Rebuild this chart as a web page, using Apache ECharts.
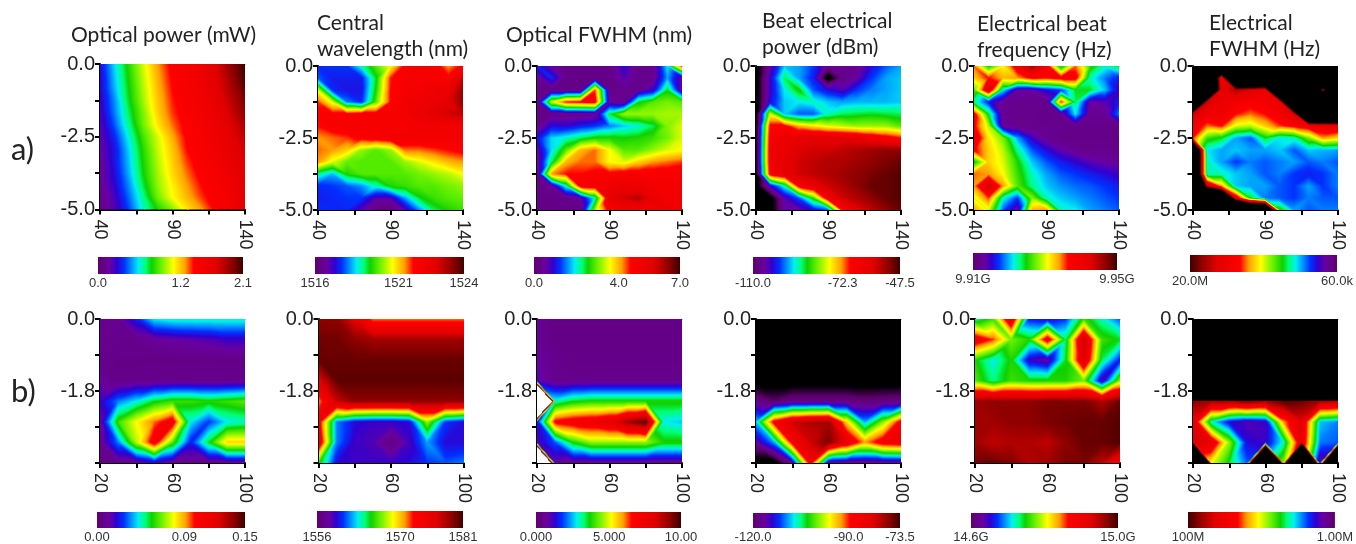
<!DOCTYPE html>
<html><head><meta charset="utf-8">
<script src="https://cdn.jsdelivr.net/npm/echarts@6/dist/echarts.min.js"></script>
<style>html,body{margin:0;padding:0;background:#fff}#c{width:1356px;height:544px}</style></head>
<body><div id="c"></div>
<script>
// Axis nodes of the sampled maps
const xTopNodes=[40,50,60,70,80,90,100,110,120,130,140];
const yTopNodes=[0,-0.4167,-0.8333,-1.25,-1.6667,-2.0833,-2.5,-2.9167,-3.3333,-3.75,-4.1667,-4.5833,-5];
const xBottomNodes=[20,30,40,50,60,70,80,90,100];
const yBottomNodes=[0,-0.5143,-1.0286,-1.5429,-2.0571,-2.5714,-3.0857,-3.6];
const _=null;
// Values: position on each panel's colour bar, in percent of its span (null = off-scale, drawn black)
const aPower=[
[14,27,39,50,60,68,71,75,82,92,100],
[13,26,38,49,59,67,71,74,81,90,99],
[13,25,37,48,58,66,70,73,80,88,97],
[12,23,36,47,57,65,70,72,78,86,94],
[11,22,34,45,56,64,69,72,76,84,92],
[10,20,32,44,54,62,68,71,75,82,89],
[9,17,29,41,50,59,67,70,74,80,86],
[8,15,27,39,49,57,66,70,73,78,84],
[7,15,26,38,48,56,64,69,72,77,82],
[7,14,25,37,47,55,62,68,71,75,81],
[6,13,23,35,46,53,60,66,70,74,80],
[5,11,21,32,44,52,58,64,69,72,79],
[5,10,19,30,38,45,54,60,67,71,78]];
const aWavelength=[
[17,18,18,30,42,52,68,70,70,60,68],
[20,16,16,16,36,65,70,70,70,68,85],
[50,17,15,15,38,66,70,72,74,76,92],
[64,50,22,17,42,66,72,74,76,80,92],
[68,68,68,70,70,70,72,76,80,84,86],
[66,70,70,70,70,70,70,72,72,72,72],
[60,62,64,68,70,72,72,72,72,72,72],
[62,60,56,46,42,46,62,62,64,66,68],
[60,50,43,42,42,42,46,50,54,58,60],
[32,25,38,42,42,42,42,44,46,48,52],
[17,18,20,23,30,38,40,42,42,44,46],
[16,17,18,18,10,10,24,36,40,42,43],
[17,17,17,10,2,2,10,23,34,38,40]];
const aOptFwhm=[
[16,8,4,4,4,4,14,5,5,28,66],
[6,17,5,4,4,4,10,5,5,24,8],
[4,4,4,4,64,5,5,6,12,36,8],
[5,50,66,68,70,8,5,36,42,44,42],
[4,5,5,5,6,35,46,46,46,47,47],
[5,14,13,16,18,22,26,29,34,45,50],
[14,27,30,34,38,38,37,38,40,44,50],
[8,27,42,58,62,52,42,42,46,50,52],
[6,34,58,62,62,52,50,56,60,62,64],
[5,60,66,66,68,68,70,70,70,70,70],
[4,6,30,70,72,74,76,74,72,72,72],
[4,4,4,8,30,78,84,88,76,72,74],
[4,4,4,4,46,70,72,72,72,76,72]];
const aBeatPower=[
[_,8,26,24,18,6,6,6,14,20,24],
[_,12,34,24,16,_,4,8,18,24,26],
[_,12,28,38,20,14,10,18,22,24,26],
[_,14,26,28,30,26,24,25,25,25,26],
[_,50,26,20,20,30,34,35,36,35,34],
[_,68,68,58,54,50,48,46,46,46,42],
[_,72,76,78,80,80,80,78,74,70,66],
[_,74,76,82,84,84,86,88,90,92,92],
[_,74,78,84,86,88,88,90,92,94,96],
[_,70,78,84,86,88,90,92,94,96,98],
[_,12,30,70,78,84,88,92,96,96,98],
[_,_,10,20,40,74,84,88,92,96,98],
[_,_,8,8,14,20,68,80,86,92,96]];
const aBeatFreq=[
[62,36,52,72,90,72,32,62,40,30,36],
[56,66,58,60,68,66,70,70,30,22,16],
[42,80,28,8,8,14,18,36,36,26,12],
[32,16,6,5,5,5,66,34,8,10,16],
[70,36,6,5,5,4,6,28,6,6,22],
[68,48,7,5,5,5,5,5,5,5,5],
[76,54,44,24,12,6,4,4,4,4,4],
[68,56,48,32,20,14,9,6,5,5,5],
[35,56,50,38,26,20,16,13,10,8,7],
[62,60,52,40,30,24,20,18,16,14,12],
[60,85,60,42,32,26,23,21,20,18,16],
[50,64,30,18,45,30,26,24,22,20,18],
[60,50,20,8,58,60,30,28,24,22,20]];
const aBeatFwhm=[
[_,_,_,_,_,_,_,_,_,_,_],
[_,_,72,_,_,_,_,_,_,_,_],
[_,_,78,88,82,76,_,_,_,88,_],
[_,85,76,72,70,72,75,_,_,_,_],
[86,74,74,66,62,66,72,82,_,_,_],
[74,62,66,50,48,56,64,68,72,75,76],
[66,40,36,24,20,36,28,30,44,60,56],
[_,28,24,26,24,24,26,20,26,25,24],
[_,30,24,18,22,20,22,24,20,22,20],
[_,30,30,26,24,20,22,18,16,18,22],
[_,88,60,26,24,24,20,18,24,18,22],
[_,_,_,78,36,22,20,18,22,20,20],
[_,_,_,_,_,_,40,24,20,22,22]];
const bPower=[
[5,6,16,28,30,30,30,30,30],
[5,5,5,7,8,9,10,12,12],
[5,4,4,4,4,4,4,4,4],
[8,4,5,5,5,5,5,5,6],
[12,22,28,36,40,40,38,40,42],
[8,40,52,62,72,28,18,28,30],
[6,22,48,72,42,16,36,56,56],
[4,5,6,12,6,5,5,6,6]];
const bWavelength=[
[92,92,80,62,62,62,62,62,62],
[95,95,92,90,90,90,90,90,90],
[96,96,96,96,96,96,96,96,96],
[80,97,97,97,97,97,97,97,97],
[60,85,92,92,92,92,92,92,92],
[72,22,14,12,12,14,46,18,14],
[78,22,12,10,3,11,24,14,14],
[40,14,12,12,12,14,18,20,22]];
const bOptFwhm=[
[6,4,4,4,4,4,4,4,4],
[6,4,4,4,4,4,4,4,4],
[8,5,4,4,4,4,4,4,4],
[10,5,5,5,5,5,5,5,5],
[440,30,36,38,38,38,38,38,38],
[14,68,72,74,78,90,98,28,26],
[10,20,38,46,46,46,46,38,38],
[430,8,6,6,6,6,6,6,6]];
const bBeatPower=[
[_,_,_,_,_,_,_,_,_],
[_,_,_,_,_,_,_,_,_],
[_,_,_,_,_,_,_,_,_],
[_,_,_,_,_,_,_,_,_],
[5,0,4,4,4,4,2,3,4],
[26,70,84,88,90,55,24,45,70],
[8,24,70,84,94,78,60,72,74],
[_,_,8,72,8,5,4,5,6]];
const bBeatFreq=[
[32,40,80,16,14,18,40,30,20],
[74,64,44,38,74,34,86,40,36],
[38,28,38,12,8,36,82,34,16],
[42,32,40,38,38,38,44,10,46],
[90,92,92,92,94,94,94,88,96],
[90,90,92,92,94,95,96,96,98],
[90,86,88,88,86,92,96,96,98],
[94,96,94,88,90,94,94,86,70]];
const bBeatFwhm=[
[_,_,_,_,_,_,_,_,_],
[_,_,_,_,_,_,_,_,_],
[_,_,_,_,_,_,_,_,_],
[_,_,_,_,_,_,_,_,_],
[92,90,90,95,90,98,96,90,88],
[78,30,14,10,12,60,80,26,22],
[84,78,46,14,12,30,78,22,20],
[_,52,36,20,_,45,_,8,_]];

// Colour-bar tick labels and their positions on the bar (percent)
const barLabels=[
[["0.0",0],["1.2",57],["2.1",100]],[["1516",0],["1521",56],["1524",100]],[["0.0",0],["4.0",58],["7.0",100]],
[["-110.0",0],["-72.3",61],["-47.5",100]],[["9.91G",0],["9.95G",100]],[["20.0M",0],["60.0k",100]],
[["0.00",0],["0.09",59],["0.15",100]],[["1556",0],["1570",57],["1581",100]],[["0.000",0],["5.000",50.5],["10.00",100]],
[["-120.0",0],["-90.0",65],["-73.5",100]],[["14.6G",0],["15.0G",100]],[["100M",0],["1.00M",100]]];

const titles=[
["Optical power (mW)",71,22],["Central\nwavelength (nm)",317,10],["Optical FWHM (nm)",506,22],
["Beat electrical\npower (dBm)",762,8],["Electrical beat\nfrequency (Hz)",977,11],["Electrical\nFWHM (Hz)",1209,10]];

const RAMP=[[0,94,0,110],[.08,106,0,160],[.13,48,0,208],[.18,0,48,255],[.23,0,144,255],[.28,0,240,240],[.33,0,255,112],
[.37,16,208,0],[.43,96,240,0],[.52,255,255,0],[.60,255,160,0],[.66,255,0,0],[.82,224,0,0],[.92,144,0,0],[1,64,0,0]];
const rampCss=RAMP.map(s=>({offset:s[0],color:`rgb(${s[1]},${s[2]},${s[3]})`}));
function colorAt(t,over){
  if(t>1){
    if(over==='white')return [255,255,255];
    if(over==='black'){const k=Math.max(0,1-(t-1)/0.04);return [64*k,0,0];}
    t=1;
  }
  if(t<0){const k=Math.max(0,1+t/0.08);return [94*k,0,110*k];}
  for(let i=1;i<RAMP.length;i++){
    if(t<=RAMP[i][0]){const a=RAMP[i-1],b=RAMP[i],f=(t-a[0])/(b[0]-a[0]);
      return [a[1]+f*(b[1]-a[1]),a[2]+f*(b[2]-a[2]),a[3]+f*(b[3]-a[3])];}
  }
  return [64,0,0];
}
// Contour fill inside one cell: two linear triangles, split along the diagonal whose ends agree best
function cellValue(q,u,v){
  if(Math.abs(q[0]-q[3])<=Math.abs(q[1]-q[2])){
    return u>v ? q[0]+u*(q[1]-q[0])+v*(q[3]-q[1]) : q[0]+v*(q[2]-q[0])+u*(q[3]-q[2]);
  }
  return u+v<1 ? q[0]+u*(q[1]-q[0])+v*(q[2]-q[0]) : q[3]+(1-u)*(q[2]-q[3])+(1-v)*(q[1]-q[3]);
}

const L=[100,318,537,755.5,974,1192.5], W=145;
const L2=[100,318.5,537,756,975,1193];
const barBoxes=[
[98,145,257],[315,149,257],[534,146,257],[753,147,257],[973,144,253],[1190,147,255],
[97,148,512],[317,146,511],[536,145,512],[753,147,513],[971,147,513],[1188,150,512]];
const spans=[
{rows:aPower,lo:0,hi:2.1},{rows:aWavelength,lo:1516,hi:1524},{rows:aOptFwhm,lo:0,hi:7},
{rows:aBeatPower,lo:-110,hi:-47.5,nullT:-0.12},{rows:aBeatFreq,lo:9.91,hi:9.95},
{rows:aBeatFwhm,lo:4.778,hi:7.301,nullT:1.8,over:'black',rev:true},
{rows:bPower,lo:0,hi:0.15},{rows:bWavelength,lo:1556,hi:1581},{rows:bOptFwhm,lo:0,hi:10,over:'white'},
{rows:bBeatPower,lo:-120,hi:-73.5,nullT:-0.12},{rows:bBeatFreq,lo:14.6,hi:15.0},
{rows:bBeatFwhm,lo:6,hi:8,nullT:5,over:'black',rev:true}];

const grid=[],xAxis=[],yAxis=[],series=[];
const axisBase={axisLine:{show:true,onZero:false,lineStyle:{color:'#000',width:2}},
  axisTick:{show:true,length:5,lineStyle:{color:'#000',width:2}},splitLine:{show:false}};

spans.forEach((p,k)=>{
  const top=k<6, col=k%6;
  const xs=top?xTopNodes:xBottomNodes, ys=top?yTopNodes:yBottomNodes;
  const left=top?L[col]:L2[col], ty=top?(col===0?64:66):319;
  const height=top?(col===0?145.5:144):144;
  grid.push({left,top:ty,width:W,height});
  const xr=[xs[0],xs[xs.length-1]], ymin=ys[ys.length-1];
  const xMid=(xr[0]+xr[1])/2, yMid=ymin/2;
  xAxis.push({...axisBase,gridIndex:grid.length-1,type:'value',min:xr[0],max:xr[1],position:'bottom',
    axisTick:{...axisBase.axisTick,customValues:[xr[0],(xr[0]+xMid)/2,xMid,(xMid+xr[1])/2,xr[1]]},
    axisLabel:{customValues:[xr[0],xMid,xr[1]],rotate:-90,margin:10,fontSize:18,color:'#222',fontFamily:'Liberation Sans',hideOverlap:false}});
  yAxis.push({...axisBase,gridIndex:grid.length-1,type:'value',min:ymin,max:0,
    axisTick:{...axisBase.axisTick,customValues:[ymin,(ymin+yMid)/2,yMid,yMid/2,0]},
    axisLabel:{customValues:top?[ymin,yMid,0]:[yMid,0],margin:5,fontSize:20,color:'#222',fontFamily:'Liberation Sans',formatter:v=>v.toFixed(1)}});
  // real-unit values from the colour-bar positions
  const real=p.rows.map(r=>r.map(v=>v===null?null:p.lo+v/100*(p.hi-p.lo)));
  const cells=[];
  for(let j=0;j<ys.length-1;j++)for(let i=0;i<xs.length-1;i++)
    cells.push([xs[i],ys[j],xs[i+1],ys[j+1],real[j][i],real[j][i+1],real[j+1][i],real[j+1][i+1]]);
  const tOf=v=>{ if(v===null||v===undefined||Number.isNaN(v))return p.nullT!==undefined?p.nullT:0; return (v-p.lo)/(p.hi-p.lo); };
  series.push({type:'custom',xAxisIndex:grid.length-1,yAxisIndex:grid.length-1,coordinateSystem:'cartesian2d',
    clip:true,silent:true,progressive:0,animation:false,data:cells,
    encode:{x:[0,2],y:[1,3]},
    renderItem:(params,api)=>{
      const c=cells[params.dataIndex];
      const a=api.coord([c[0],c[1]]),b=api.coord([c[2],c[3]]);
      const w=Math.ceil(b[0]-a[0])+1,h=Math.ceil(b[1]-a[1])+1;
      const cv=document.createElement('canvas');cv.width=w;cv.height=h;
      const ctx=cv.getContext('2d'),im=ctx.createImageData(w,h);
      const q=[tOf(c[4]),tOf(c[5]),tOf(c[6]),tOf(c[7])];
      const dx=b[0]-a[0],dy=b[1]-a[1];
      for(let y=0;y<h;y++)for(let x=0;x<w;x++){
        const u=Math.min(1,(x+.5)/dx),v=Math.min(1,(y+.5)/dy);
        const t=cellValue(q,u,v);
        const col=colorAt(t,p.over),o=(y*w+x)*4;
        im.data[o]=col[0];im.data[o+1]=col[1];im.data[o+2]=col[2];im.data[o+3]=255;
      }
      ctx.putImageData(im,0,0);
      return {type:'image',style:{image:cv,x:a[0],y:a[1],width:w,height:h}};
    }});
});

// Colour bars
barBoxes.forEach((b,k)=>{
  const labels=barLabels[k], rev=spans[k].rev;
  grid.push({left:b[0],top:b[2],width:b[1],height:17});
  const idx=grid.length-1;
  const map={};labels.forEach(l=>map[l[1]]=l[0]);
  xAxis.push({gridIndex:idx,type:'value',min:0,max:100,axisLine:{show:false},axisTick:{show:false},splitLine:{show:false},
    axisLabel:{customValues:labels.map(l=>l[1]),margin:3,fontSize:13,color:'#333',fontFamily:'Liberation Sans',hideOverlap:false,formatter:v=>map[v]}});
  yAxis.push({gridIndex:idx,type:'value',min:0,max:1,show:false});
  const stops=rev?rampCss.map(s=>({offset:1-s.offset,color:s.color})).reverse():rampCss;
  series.push({type:'custom',xAxisIndex:idx,yAxisIndex:idx,coordinateSystem:'cartesian2d',silent:true,animation:false,
    data:[[0,0,100,1]],encode:{x:[0,2],y:[1,3]},
    renderItem:(params,api)=>{
      const a=api.coord([api.value(0),api.value(3)]),c=api.coord([api.value(2),api.value(1)]);
      return {type:'rect',shape:{x:a[0],y:a[1],width:c[0]-a[0],height:c[1]-a[1]},
        style:{fill:new echarts.graphic.LinearGradient(0,0,1,0,stops)}};
    }});
});

// Faint dotted line along the top edge of every map
spans.forEach((p,k)=>{
  xAxis.push({gridIndex:k,type:'value',position:'top',min:0,max:1,
    axisLine:{show:true,onZero:false,lineStyle:{color:'#777',width:1,type:'dotted'}},
    axisTick:{show:false},axisLabel:{show:false},splitLine:{show:false}});
});

const title=titles.map(t=>({text:t[0],left:t[1],top:t[2],padding:0,
  textStyle:{fontFamily:'Lato',fontWeight:'normal',fontSize:21,lineHeight:26,color:'#222'}}));
title.push({text:'a)',left:11,top:134,padding:0,textStyle:{fontFamily:'Lato',fontWeight:'normal',fontSize:31,lineHeight:32,color:'#222'}});
title.push({text:'b)',left:11,top:376,padding:0,textStyle:{fontFamily:'Lato',fontWeight:'normal',fontSize:31,lineHeight:32,color:'#222'}});

const chart=echarts.init(document.getElementById('c'),null,{renderer:'canvas'});
chart.setOption({animation:false,backgroundColor:'#fff',title,grid,xAxis,yAxis,series});
</script></body></html>
